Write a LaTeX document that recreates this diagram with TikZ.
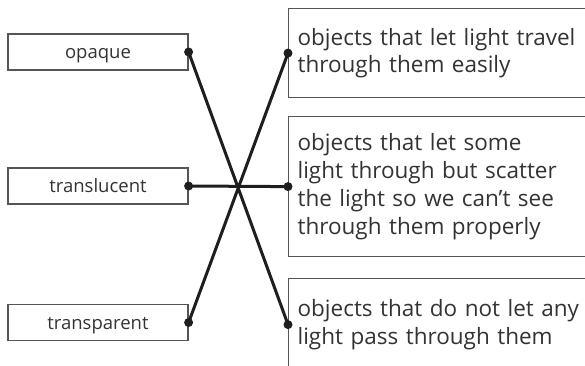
\documentclass[tikz,border=0pt]{standalone}
\usepackage{fontspec}
\setmainfont{Open Sans}
\definecolor{boxgray}{HTML}{555555}
\definecolor{textgray}{HTML}{333333}
\definecolor{linkblack}{HTML}{1E1E1E}
\begin{document}
\begin{tikzpicture}[x=1pt,y=-1pt,
lbox/.style={draw=boxgray,line width=1.2pt,minimum width=180pt,minimum height=36pt,text height=13pt,text depth=0pt,text=textgray,font=\fontsize{18.5}{20}\selectfont},
rbox/.style={draw=boxgray,line width=1.2pt,anchor=north west,text width=320pt,align=left,inner xsep=9pt,text=textgray,font=\fontsize{22.5}{27.7}\selectfont},
link/.style={line width=3pt,draw=linkblack},
dot/.style={circle,fill=linkblack,inner sep=0pt,minimum size=9pt}]
\useasboundingbox (0,0) rectangle (585,365);
% words on the left
\node[lbox] (opaque) at (98,52) {opaque};
\node[lbox] (translucent) at (98,186) {translucent};
\node[lbox] (transparent) at (98,322.5) {transparent};
% meanings on the right
\node[rbox,minimum height=89pt] (easily) at (288,8) {objects that let light travel\\through them easily};
\node[rbox,minimum height=140pt] (scatter) at (288,116) {objects that let some\\light through but scatter\\the light so we can't see\\through them properly};
\node[rbox,minimum height=92pt] (block) at (288,278) {objects that do not let any\\light pass through them};
% dots
\node[dot] (a) at (opaque.east) {};
\node[dot] (b) at (translucent.east) {};
\node[dot] (c) at (transparent.east) {};
\node[dot] (p) at (easily.west) {};
\node[dot] (q) at (scatter.west) {};
\node[dot] (r) at (block.west) {};
\draw[link] (a.center)--(r.center) (b.center)--(q.center) (c.center)--(p.center);
\end{tikzpicture}
\end{document}
